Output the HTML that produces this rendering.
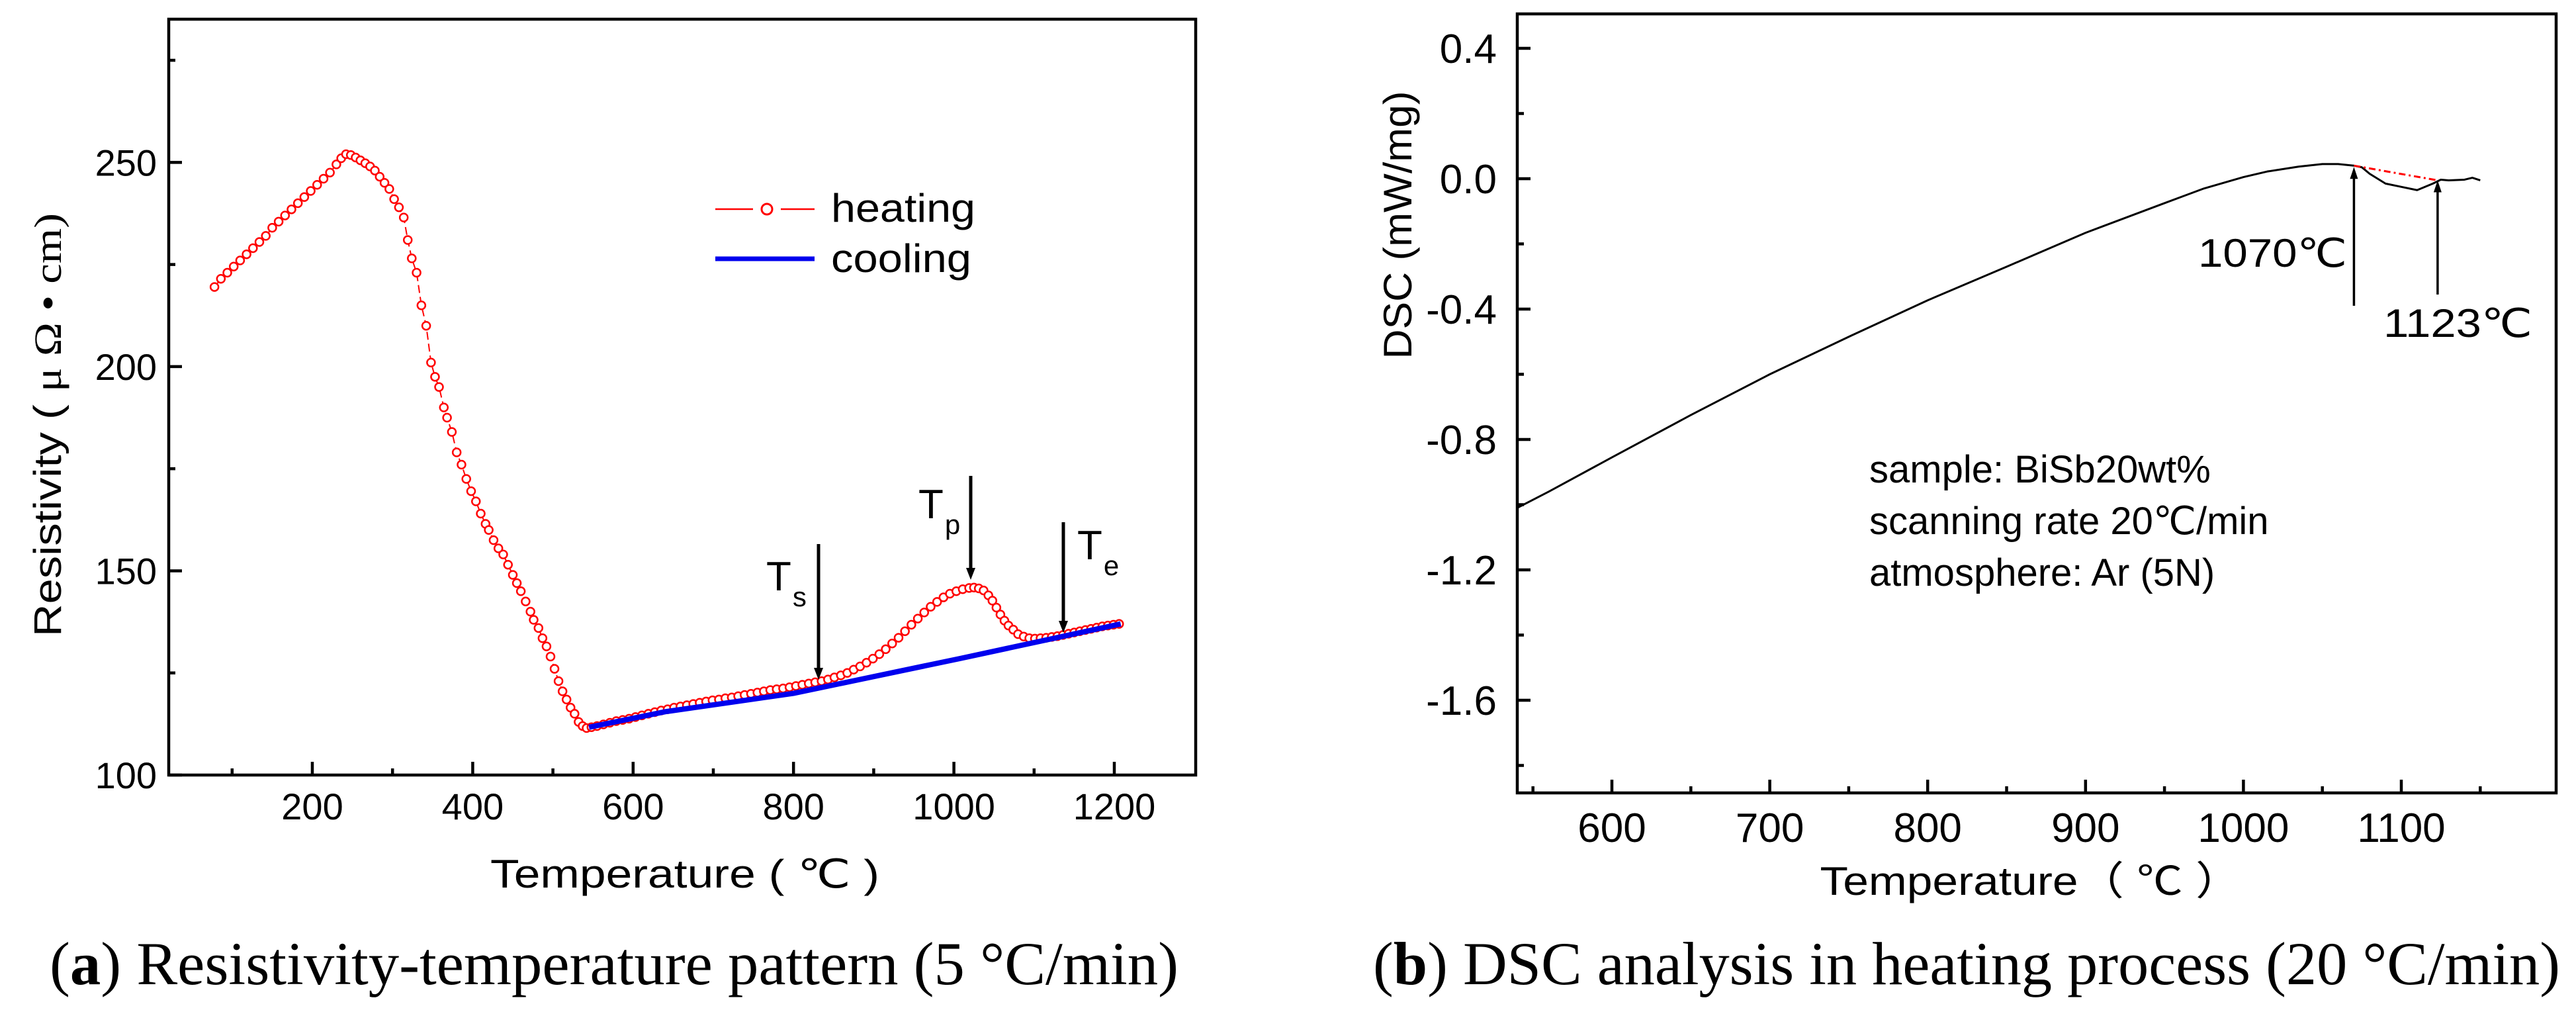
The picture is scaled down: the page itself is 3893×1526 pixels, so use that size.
<!DOCTYPE html>
<html><head><meta charset="utf-8"><style>
html,body{margin:0;padding:0;background:#fff}
svg{display:block}
text{font-family:"Liberation Sans",Arial,sans-serif;fill:#000}
.serif{font-family:"Liberation Serif","Times New Roman",serif}
</style></head><body>
<svg id="fig" xmlns="http://www.w3.org/2000/svg" width="3893" height="1526" viewBox="0 0 3893 1526">
<rect width="3893" height="1526" fill="#fff"/>
<g id="left"></g>
<g id="right"></g>
</svg>
<script>
// ---- Chart (a) data ----
const heatT = [78,86,94,102,110,118,126,134,142,150,158,166,174,182,190,198,206,214,222,230,236,242,248,254,260,266,272,278,284,290,296,302,308,314,319,324,330,336,342,348,353,358,364,368,374,380,386,392,398,404,410,416,420,426,432,438,444,450,455,460,466,472,476,482,487,492,497,502,507,512,517,522,527,532,537,542,548,555,563,571,579,587,595,603,611,619,627,635,643,651,659,667,675,683,691,699,707,715,723,731,739,747,755,763,771,779,787,795,803,811,819,827,835,843,851,859,867,875,883,891,899,907,915,923,931,939,947,955,963,971,979,987,995,1003,1011,1019,1025,1031,1037,1043,1048,1053,1058,1063,1068,1074,1080,1087,1094,1101,1108,1115,1122,1129,1136,1143,1150,1157,1164,1171,1178,1185,1192,1199,1206];
const heatR = [219.5,221.5,223,224.5,226,227.5,229,230.5,232,234,235.5,237,238.5,240,241.5,243,244.5,246,247.5,249.5,251,252,251.8,251.2,250.5,249.8,249,248,246.5,245,243.5,241,239,236.5,231,226.5,223,215,210,201,197.5,195,190,187.5,184,179,176,172.5,169.5,167,164,161.5,160,157.5,155.5,154,151.5,149,147,145,142.5,140,138,136,133.5,131.5,129,126,123,120.5,118.5,116.5,115,113,112,111.5,111.7,112,112.4,112.8,113.2,113.5,113.8,114.2,114.6,115,115.4,115.8,116.1,116.5,116.8,117.1,117.4,117.7,118,118.3,118.5,118.8,119,119.3,119.6,119.9,120.2,120.5,120.8,121,121.2,121.5,121.8,122.1,122.4,122.7,123,123.4,123.9,124.4,125,125.8,126.6,127.5,128.5,129.6,130.8,132.2,133.6,135.2,136.8,138.3,139.8,141.2,142.4,143.5,144.4,145,145.5,145.8,145.9,145.7,145.2,144,142.7,141,139.3,137.8,136.6,135.6,134.5,133.9,133.5,133.4,133.5,133.6,133.8,134,134.3,134.6,134.9,135.2,135.5,135.8,136.1,136.4,136.6,136.8,137];
const coolT = [545,640,800,1007,1208];
const coolR = [111.7,115.5,120,128.5,137];
const aXMajor = [200,400,600,800,1000,1200];
const aXMinor = [100,300,500,700,900,1100];
const aYMajor = [100,150,200,250];
const aYMinor = [125,175,225,275];
// ---- Chart (b) data ----
const dscT = [540,560,600,650,700,750,800,850,900,950,975,1000,1015,1035,1050,1060,1070,1075,1080,1090,1100,1110,1120,1125,1130,1140,1145,1150];
const dscV = [-1.01,-0.96,-0.855,-0.725,-0.6,-0.485,-0.373,-0.27,-0.166,-0.075,-0.03,0.005,0.022,0.037,0.045,0.045,0.04,0.035,0.015,-0.015,-0.025,-0.035,-0.015,-0.003,-0.005,-0.003,0.003,-0.005];
const baseT = [1070,1123];
const baseV = [0.04,-0.005];
const bXMajor = [600,700,800,900,1000,1100];
const bXMinor = [550,650,750,850,950,1050,1150];
const bYMajor = [0.4,0.0,-0.4,-0.8,-1.2,-1.6];
const bYMinor = [0.2,-0.2,-0.6,-1.0,-1.4,-1.8];

const NS="http://www.w3.org/2000/svg";
function mk(parent,tag,attrs,txt){const e=document.createElementNS(NS,tag);for(const k in attrs)e.setAttribute(k,attrs[k]);if(txt!==undefined)e.textContent=txt;parent.appendChild(e);return e;}

// ===== Chart (a) =====
const L=document.getElementById('left');
const axL={x0:255,x1:1807,y0:29,y1:1171};
const xL=t=>229.6+1.212*t;
const yL=v=>1171-6.171*(v-100);
let e;
e=mk(L,'rect',{x:axL.x0,y:axL.y0,width:axL.x1-axL.x0,height:axL.y1-axL.y0,fill:'none',stroke:'#000','stroke-width':4.5});


aXMajor.forEach(t=>{
  e=mk(L,'line',{x1:xL(t),x2:xL(t),y1:axL.y1,y2:axL.y1-20,stroke:'#000','stroke-width':4.5});
  
  
  e=mk(L,'text',{x:xL(t),y:1238,'font-size':56,'text-anchor':'middle'},String(t));
  
  
});
aXMinor.forEach(t=>{
  e=mk(L,'line',{x1:xL(t),x2:xL(t),y1:axL.y1,y2:axL.y1-10,stroke:'#000','stroke-width':4.5});
  
  
});
aYMajor.forEach(v=>{
  e=mk(L,'line',{x1:axL.x0,x2:axL.x0+20,y1:yL(v),y2:yL(v),stroke:'#000','stroke-width':4.5});
  
  
  e=mk(L,'text',{x:237,y:yL(v)+20,'font-size':56,'text-anchor':'end'},String(v));
  
  
});
aYMinor.forEach(v=>{
  e=mk(L,'line',{x1:axL.x0,x2:axL.x0+10,y1:yL(v),y2:yL(v),stroke:'#000','stroke-width':4.5});
  
  
});
// heating line + markers
e=mk(L,'polyline',{points:heatT.map((t,i)=>xL(t)+','+yL(heatR[i])).join(' '),fill:'none',stroke:'#ff0000','stroke-width':2,'stroke-dasharray':'12 6'});


heatT.forEach((t,i)=>{
  e=mk(L,'circle',{cx:xL(t),cy:yL(heatR[i]),r:6,fill:'#fff',stroke:'#ff0000','stroke-width':2.5});
  
  
});
// cooling line (on top)
e=mk(L,'polyline',{points:coolT.map((t,i)=>xL(t)+','+yL(coolR[i])).join(' '),fill:'none',stroke:'#0000ee','stroke-width':8});


// arrows
function arrow(g,x,ytop,ytip,name){
  const a=mk(g,'g',{});
  
  
  mk(a,'line',{x1:x,x2:x,y1:ytop,y2:ytip-14,stroke:'#000','stroke-width':5});
  mk(a,'polygon',{points:`${x-7},${ytip-18} ${x+7},${ytip-18} ${x},${ytip}`,fill:'#000'});
}
function arrowUp(g,x,ybot,ytip,name){
  const a=mk(g,'g',{});
  
  
  mk(a,'line',{x1:x,x2:x,y1:ybot,y2:ytip+14,stroke:'#000','stroke-width':3.5});
  mk(a,'polygon',{points:`${x-6},${ytip+18} ${x+6},${ytip+18} ${x},${ytip}`,fill:'#000'});
}
arrow(L,1237,822,1027,'ts-arrow');
arrow(L,1467,719,876,'tp-arrow');
arrow(L,1607,789,956,'te-arrow');
e=mk(L,'text',{x:1158,y:892,'font-size':62},'T');
mk(e,'tspan',{dx:2,dy:24,'font-size':42},'s');
e=mk(L,'text',{x:1388,y:783,'font-size':62},'T');
mk(e,'tspan',{dx:2,dy:24,'font-size':42},'p');
e=mk(L,'text',{x:1628,y:845,'font-size':62},'T');
mk(e,'tspan',{dx:2,dy:24,'font-size':42},'e');
// legend
const lg=mk(L,'g',{});


e=mk(lg,'g',{});
mk(e,'line',{x1:1081,x2:1138,y1:316,y2:316,stroke:'#ff0000','stroke-width':2.5});
mk(e,'line',{x1:1180,x2:1231,y1:316,y2:316,stroke:'#ff0000','stroke-width':2.5});
mk(e,'circle',{cx:1159,cy:316,r:8,fill:'#fff',stroke:'#ff0000','stroke-width':3});
mk(e,'text',{x:1256,y:335,'font-size':60,textLength:218,lengthAdjust:'spacingAndGlyphs'},'heating');
e=mk(lg,'g',{});
mk(e,'line',{x1:1081,x2:1231,y1:391,y2:391,stroke:'#0000ee','stroke-width':7});
mk(e,'text',{x:1256,y:411,'font-size':60,textLength:212,lengthAdjust:'spacingAndGlyphs'},'cooling');
// axis titles
e=mk(L,'text',{x:741,y:1341,'font-size':60,textLength:588,lengthAdjust:'spacingAndGlyphs'},'Temperature (  ℃ )');

e=mk(L,'text',{x:0,y:0,'font-size':58,transform:'translate(92,962) rotate(-90)',textLength:640,lengthAdjust:'spacingAndGlyphs'});

e.appendChild(document.createTextNode('Resistivity ( '));
mk(e,'tspan',{class:'serif'},'μ  Ω  •  cm)');
e=mk(L,'text',{x:75,y:1487,'font-size':92,class:'serif',textLength:1706,lengthAdjust:'spacingAndGlyphs'});

e.appendChild(document.createTextNode('('));
mk(e,'tspan',{'font-weight':'bold'},'a');
e.appendChild(document.createTextNode(') Resistivity-temperature pattern (5 °C/min)'));

// ===== Chart (b) =====
const R=document.getElementById('right');
const axR={x0:2293,x1:3863,y0:21,y1:1198};
const xR=t=>2436+2.386*(t-600);
const yR=v=>270-492.5*v;
e=mk(R,'rect',{x:axR.x0,y:axR.y0,width:axR.x1-axR.x0,height:axR.y1-axR.y0,fill:'none',stroke:'#000','stroke-width':4.5});


bXMajor.forEach(t=>{
  e=mk(R,'line',{x1:xR(t),x2:xR(t),y1:axR.y1,y2:axR.y1-20,stroke:'#000','stroke-width':4.5});
  
  
  e=mk(R,'text',{x:xR(t),y:1272,'font-size':62,'text-anchor':'middle'},String(t));
  
  
});
bXMinor.forEach(t=>{
  e=mk(R,'line',{x1:xR(t),x2:xR(t),y1:axR.y1,y2:axR.y1-10,stroke:'#000','stroke-width':4.5});
  
  
});
bYMajor.forEach(v=>{
  e=mk(R,'line',{x1:axR.x0,x2:axR.x0+20,y1:yR(v),y2:yR(v),stroke:'#000','stroke-width':4.5});
  
  
  e=mk(R,'text',{x:2262,y:yR(v)+22,'font-size':62,'text-anchor':'end'},v.toFixed(1));
  
  
});
bYMinor.forEach(v=>{
  e=mk(R,'line',{x1:axR.x0,x2:axR.x0+10,y1:yR(v),y2:yR(v),stroke:'#000','stroke-width':4.5});
  
  
});
e=mk(R,'polyline',{points:dscT.map((t,i)=>xR(t)+','+yR(dscV[i])).join(' '),fill:'none',stroke:'#000','stroke-width':3,'stroke-linejoin':'round'});


e=mk(R,'polyline',{points:baseT.map((t,i)=>xR(t)+','+yR(baseV[i])).join(' '),fill:'none',stroke:'#ff0000','stroke-width':3,'stroke-dasharray':'10 5 3 5'});


arrowUp(R,xR(1070),462,yR(0.036),'onset-arrow');
arrowUp(R,xR(1123),445,yR(-0.005),'end-arrow');
e=mk(R,'text',{x:3322,y:403,'font-size':60,textLength:225,lengthAdjust:'spacingAndGlyphs'},'1070℃');
e=mk(R,'text',{x:3602,y:509,'font-size':60,textLength:225,lengthAdjust:'spacingAndGlyphs'},'1123℃');
const notes=['sample: BiSb20wt%','scanning rate 20℃/min','atmosphere: Ar (5N)'];
const noteY=[729,807,885];
notes.forEach((s,i)=>{
  e=mk(R,'text',{x:2825,y:noteY[i],'font-size':58},s);
  
  
});
e=mk(R,'text',{x:3069,y:1352,'font-size':60,'text-anchor':'middle',textLength:637,lengthAdjust:'spacingAndGlyphs'},'Temperature（ ℃ ）');

e=mk(R,'text',{x:0,y:0,'font-size':60,'text-anchor':'middle',transform:'translate(2133,340) rotate(-90)',textLength:405,lengthAdjust:'spacingAndGlyphs'},'DSC (mW/mg)');

e=mk(R,'text',{x:2075,y:1487,'font-size':92,class:'serif',textLength:1794,lengthAdjust:'spacingAndGlyphs'});

e.appendChild(document.createTextNode('('));
mk(e,'tspan',{'font-weight':'bold'},'b');
e.appendChild(document.createTextNode(') DSC analysis in heating process (20 °C/min)'));
</script>
</body></html>
